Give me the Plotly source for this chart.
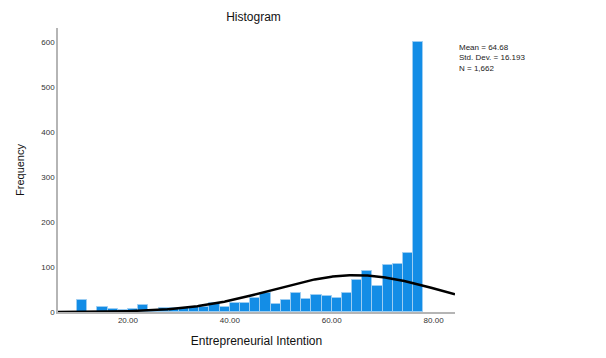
import numpy as np
import plotly.graph_objects as go

# Bin centres (bin width 2) and frequencies
bin_centers = [11, 13, 15, 17, 19, 21, 23, 25, 27, 29, 31, 33, 35, 37, 39, 41, 43,
               45, 47, 49, 51, 53, 55, 57, 59, 61, 63, 65, 67, 69, 71, 73, 75, 77]
frequencies = [27, 0, 11, 7, 4, 7, 15, 3, 9, 8, 9, 11, 12, 20, 12, 20, 20,
               32, 42, 17, 27, 42, 28, 37, 35, 31, 43, 71, 92, 58, 104, 106, 131, 600]
bin_width = 2

stat_mean = 64.68
stat_sd = 16.193
stat_n = 1662

x_tick_vals = [20, 40, 60, 80]
y_tick_vals = [0, 100, 200, 300, 400, 500, 600]

x_range = [6.27, 84.2]
y_range = [0, 632]

# Normal curve scaled to the histogram
xc = np.linspace(x_range[0], x_range[1], 400)
yc = stat_n * bin_width * np.exp(-0.5 * ((xc - stat_mean) / stat_sd) ** 2) / (stat_sd * np.sqrt(2 * np.pi))

FONT = "Liberation Sans, Arial, sans-serif"

# page body has an 8px default margin; figure is sized to fit the window
W, H = 598, 350

fig = go.Figure()
fig.add_trace(go.Bar(
    x=bin_centers, y=frequencies, width=bin_width,
    marker=dict(color="#138de6", line=dict(color="#9ccdf2", width=1)),
    hoverinfo="x+y", showlegend=False,
))
fig.add_trace(go.Scatter(
    x=xc, y=yc, mode="lines", line=dict(color="black", width=2.5),
    showlegend=False, hoverinfo="skip",
))

fig.update_layout(
    width=W, height=H,
    margin=dict(l=44, r=151, t=20, b=46),
    paper_bgcolor="white", plot_bgcolor="white",
    font=dict(family=FONT, color="#222"),
    bargap=0,
    title=dict(text="Histogram", x=245.5 / W, xanchor="center",
               y=1 - 9 / H, yanchor="middle",
               font=dict(size=12, color="#111", family=FONT)),
    xaxis=dict(range=x_range, tickvals=x_tick_vals, tickformat=".2f",
               showgrid=False, zeroline=False, showline=True,
               linecolor="#b5b5b5", linewidth=1.5, ticks="",
               tickfont=dict(size=8, color="#333"),
               title=dict(text="Entrepreneurial Intention", standoff=12,
                          font=dict(size=12, color="#111"))),
    yaxis=dict(range=y_range, tickvals=y_tick_vals,
               showgrid=False, zeroline=False, showline=True,
               linecolor="#b5b5b5", linewidth=1.5, ticks="",
               tickfont=dict(size=8, color="#333"),
               title=dict(text="Frequency", standoff=14,
                          font=dict(size=11, color="#111"))),
    annotations=[dict(
        text=f"Mean = {stat_mean:.2f}<br>Std. Dev. = {stat_sd:.3f}<br>N = {stat_n:,}",
        xref="paper", yref="paper", x=1.005, y=1 - (41 - 28) / 284,
        xanchor="left", yanchor="top", align="left", showarrow=False,
        font=dict(size=8, color="#222", family=FONT),
    )],
)

fig.write_html("out.html")
